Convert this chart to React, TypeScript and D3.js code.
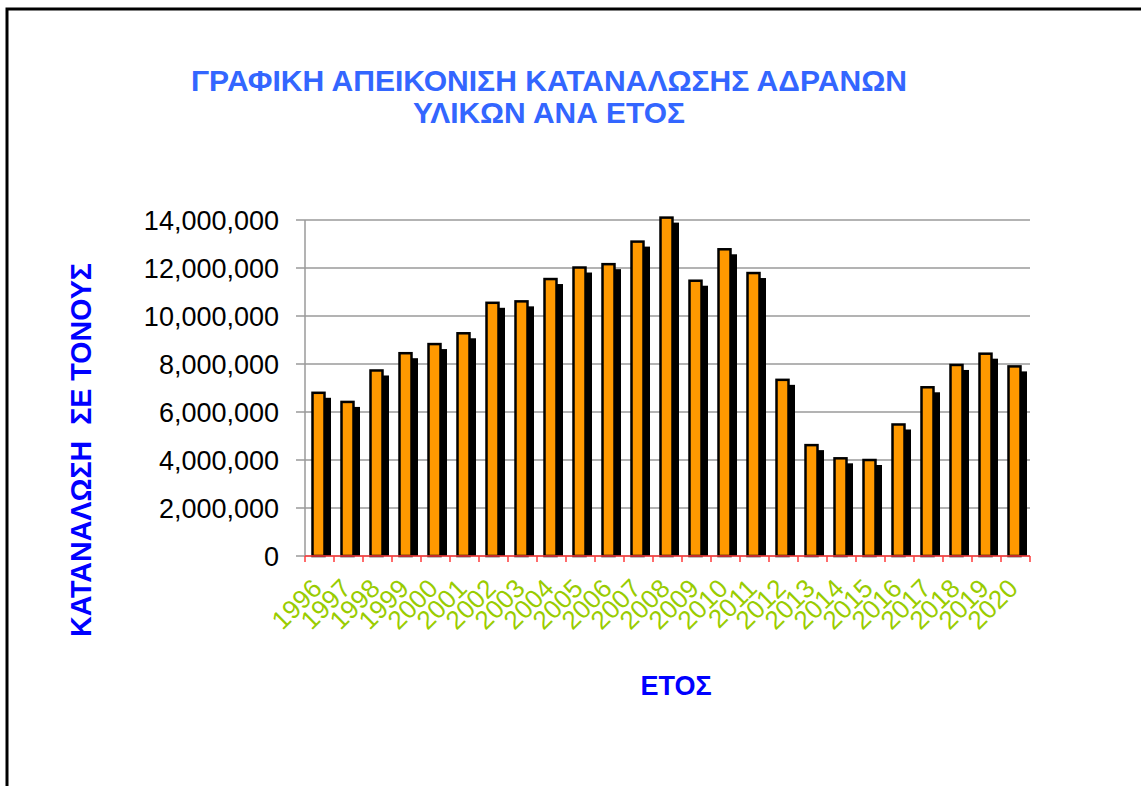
import React, { useEffect, useRef } from "react";
import * as d3 from "d3";

const years = [
  "1996", "1997", "1998", "1999", "2000", "2001", "2002", "2003", "2004",
  "2005", "2006", "2007", "2008", "2009", "2010", "2011", "2012", "2013",
  "2014", "2015", "2016", "2017", "2018", "2019", "2020",
];
const tons = [
  6800000, 6420000, 7730000, 8450000, 8830000, 9280000, 10550000, 10610000,
  11540000, 12020000, 12160000, 13100000, 14100000, 11470000, 12780000,
  11790000, 7340000, 4620000, 4070000, 4000000, 5480000, 7030000, 7960000,
  8430000, 7900000,
];
const yTicks = [0, 2000000, 4000000, 6000000, 8000000, 10000000, 12000000, 14000000];

const titleLines = ["ΓΡΑΦΙΚΗ ΑΠΕΙΚΟΝΙΣΗ ΚΑΤΑΝΑΛΩΣΗΣ ΑΔΡΑΝΩΝ", "ΥΛΙΚΩΝ ΑΝΑ ΕΤΟΣ"];
const yTitle = "ΚΑΤΑΝΑΛΩΣΗ  ΣΕ ΤΟΝΟΥΣ";
const xTitle = "ΕΤΟΣ";

const W = 1141;
const H = 786;

export default function App() {
  const ref = useRef<SVGSVGElement>(null);

  useEffect(() => {
    const svg = d3.select(ref.current);
    svg.selectAll("*").remove();

    const margin = { top: 220, right: 111, bottom: 230, left: 305 };
    const font = "'Liberation Sans', Arial, sans-serif";

    const x = d3
      .scaleBand()
      .domain(years)
      .range([margin.left, W - margin.right]);
    const y = d3
      .scaleLinear()
      .domain([0, 14000000])
      .range([H - margin.bottom, margin.top]);
    const fmt = d3.format(",");

    // outer frame (runs off the right and bottom edges)
    svg
      .append("rect")
      .attr("x", 7)
      .attr("y", 9)
      .attr("width", W + 20)
      .attr("height", H + 20)
      .attr("fill", "white")
      .attr("stroke", "black")
      .attr("stroke-width", 3);

    // title
    svg
      .selectAll("text.title")
      .data(titleLines)
      .enter()
      .append("text")
      .attr("class", "title")
      .attr("x", 549)
      .attr("y", (d, i) => 91 + i * 32)
      .attr("text-anchor", "middle")
      .attr("textLength", (d, i) => (i === 0 ? 716 : 272))
      .attr("lengthAdjust", "spacingAndGlyphs")
      .style("font-family", font)
      .style("font-weight", "bold")
      .style("font-size", "30px")
      .style("fill", "#3366ff")
      .text((d) => d);

    // grid lines + y ticks
    const yAxisG = svg.append("g");
    yAxisG
      .selectAll("line.grid")
      .data(yTicks)
      .enter()
      .append("line")
      .attr("x1", margin.left - 9)
      .attr("x2", W - margin.right)
      .attr("y1", (d) => y(d))
      .attr("y2", (d) => y(d))
      .attr("stroke", "#9a9a9a")
      .attr("stroke-width", 1.5);
    yAxisG
      .selectAll("text")
      .data(yTicks)
      .enter()
      .append("text")
      .attr("x", margin.left - 26)
      .attr("y", (d) => y(d))
      .attr("dy", "0.36em")
      .attr("text-anchor", "end")
      .style("font-family", font)
      .style("font-size", "27px")
      .style("fill", "black")
      .text((d) => fmt(d));
    yAxisG
      .append("line")
      .attr("x1", margin.left)
      .attr("x2", margin.left)
      .attr("y1", y(14000000))
      .attr("y2", y(0))
      .attr("stroke", "#9a9a9a")
      .attr("stroke-width", 1.5);

    // bars: black drop shadow first, then orange bar
    const bars = svg
      .selectAll("g.bar")
      .data(years)
      .enter()
      .append("g")
      .attr("class", "bar");
    bars
      .append("rect")
      .attr("x", (d) => x(d)! + 13)
      .attr("y", (d, i) => y(tons[i]) + 5)
      .attr("width", 13)
      .attr("height", (d, i) => y(0) - y(tons[i]) - 5)
      .attr("fill", "black");
    bars
      .append("rect")
      .attr("x", (d) => x(d)! + 7.5)
      .attr("y", (d, i) => y(tons[i]))
      .attr("width", 12)
      .attr("height", (d, i) => y(0) - y(tons[i]))
      .attr("fill", "#ff9900")
      .attr("stroke", "black")
      .attr("stroke-width", 2.5);

    // x axis (red) with ticks at band edges
    const xAxisG = svg.append("g");
    xAxisG
      .append("line")
      .attr("x1", margin.left)
      .attr("x2", W - margin.right)
      .attr("y1", y(0))
      .attr("y2", y(0))
      .attr("stroke", "#ff3b3b")
      .attr("stroke-width", 1.5);
    const edges = years.map((d) => x(d)!).concat([W - margin.right]);
    xAxisG
      .selectAll("line.tick")
      .data(edges)
      .enter()
      .append("line")
      .attr("class", "tick")
      .attr("x1", (d) => d)
      .attr("x2", (d) => d)
      .attr("y1", y(0))
      .attr("y2", y(0) + 6)
      .attr("stroke", "#ff3b3b")
      .attr("stroke-width", 1.5);
    xAxisG
      .selectAll("text")
      .data(years)
      .enter()
      .append("text")
      .attr("transform", (d) => `translate(${x(d)! + x.bandwidth() / 2 + 4},${y(0) + 34}) rotate(-45)`)
      .attr("text-anchor", "end")
      .style("font-family", font)
      .style("font-size", "26px")
      .style("fill", "#99cc00")
      .text((d) => d);

    // axis titles
    svg
      .append("text")
      .attr("transform", "translate(91,450) rotate(-90)")
      .attr("text-anchor", "middle")
      .attr("textLength", 374)
      .attr("lengthAdjust", "spacingAndGlyphs")
      .style("white-space", "pre")
      .style("font-family", font)
      .style("font-weight", "bold")
      .style("font-size", "30px")
      .style("fill", "#0000ff")
      .text(yTitle);
    svg
      .append("text")
      .attr("x", 676)
      .attr("y", 695)
      .attr("text-anchor", "middle")
      .style("font-family", font)
      .style("font-weight", "bold")
      .style("font-size", "27px")
      .style("fill", "#0000ff")
      .text(xTitle);
  }, []);

  return (
    <svg
      ref={ref}
      width={W}
      height={H}
      style={{ position: "absolute", left: 0, top: 0, display: "block" }}
    ></svg>
  );
}
